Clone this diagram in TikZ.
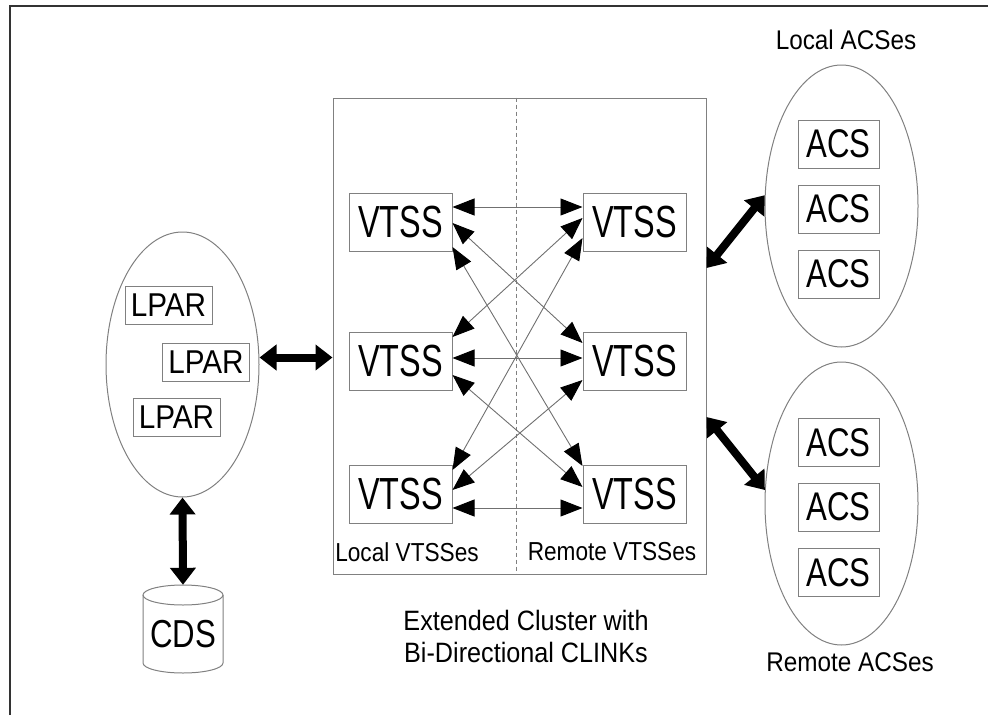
\documentclass[tikz,border=0pt]{standalone}
\usepackage{graphicx}
\usepackage{fontspec}
\setmainfont{Liberation Sans}
\usetikzlibrary{shapes.geometric,arrows.meta,calc}
\newcommand\mytxt[3]{\fontsize{#1}{#1}\selectfont\scalebox{#2}[1]{#3}}
\definecolor{edgegray}{HTML}{808080}
\definecolor{linegray}{HTML}{707070}
\definecolor{framegray}{HTML}{333333}
\tikzset{
  vbox/.style={draw=edgegray, line width=1pt, minimum width=103pt, minimum height=58pt, inner sep=0pt},
  lbox/.style={draw=edgegray, line width=1pt, minimum width=87pt, minimum height=38pt, inner sep=0pt},
  abox/.style={draw=edgegray, line width=1pt, minimum width=81pt, minimum height=48pt, inner sep=0pt},
  oval/.style={draw=edgegray, line width=1pt, ellipse, inner sep=0pt},
  thin2/.style={draw=linegray, line width=0.9pt, {Triangle[length=22pt,width=17pt,black]}-{Triangle[length=22pt,width=17pt,black]}},
  thick2/.style={draw=black, line width=8pt, {Triangle[length=17pt,width=25pt]}-{Triangle[length=17pt,width=25pt]}},
  plain/.style={inner sep=0pt}
}
\begin{document}
\begin{tikzpicture}[x=1pt,y=-1pt]
\useasboundingbox (0,0) rectangle (988,715);
% frame
\draw[framegray, line width=2pt] (10,715) -- (10,6) -- (988,6);

% central cluster box
\node[draw=edgegray, line width=1pt, minimum width=373pt, minimum height=476pt, inner sep=0pt] (cl) at (519.5,336) {};
\draw[edgegray, line width=0.9pt, dash pattern=on 4pt off 3pt] (cl.north -| 516,0) -- (cl.south -| 516,0);

% VTSS boxes
\node[vbox] (tl) at (400.5,222) {\mytxt{45}{0.72}{VTSS}};
\node[vbox] (ml) at (400.5,361.5) {\mytxt{45}{0.72}{VTSS}};
\node[vbox] (bl) at (400.5,494.5) {\mytxt{45}{0.72}{VTSS}};
\node[vbox] (tr) at (634.5,222) {\mytxt{45}{0.72}{VTSS}};
\node[vbox] (mr) at (634.5,361.5) {\mytxt{45}{0.72}{VTSS}};
\node[vbox] (br) at (634.5,494.5) {\mytxt{45}{0.72}{VTSS}};

\node[plain] (lv) at (407,552) {\mytxt{26}{0.87}{Local VTSSes}};
\node[plain] (rv) at (612,552) {\mytxt{26}{0.87}{Remote VTSSes}};

% CLINK arrows
\draw[thin2] ([yshift=15pt]tl.east) -- ([yshift=15pt]tr.west);
\draw[thin2] ([yshift=-1pt]tl.east) -- ([yshift=18.5pt]mr.west);
\draw[thin2] ([yshift=-25pt]tl.east) -- ([yshift=28.5pt]br.west);
\draw[thin2] ([yshift=4pt]tr.west) -- ([yshift=24.5pt]ml.east);
\draw[thin2] ([yshift=-16pt]tr.west) -- ([yshift=24.5pt]bl.east);
\draw[thin2] ([yshift=3.5pt]ml.east) -- ([yshift=3.5pt]mr.west);
\draw[thin2] ([yshift=-13.5pt]ml.east) -- ([yshift=7.5pt]br.west);
\draw[thin2] ([yshift=-18.5pt]mr.west) -- ([yshift=4.5pt]bl.east);
\draw[thin2] ([yshift=-13.5pt]bl.east) -- ([yshift=-13.5pt]br.west);

% LPAR ellipse
\node[oval, minimum width=153pt, minimum height=265pt] (lp) at (182.5,364.5) {};
\node[lbox] (lp1) at (168.5,305.5) {\mytxt{33}{0.9}{LPAR}};
\node[lbox] (lp2) at (206,362.5) {\mytxt{33}{0.9}{LPAR}};
\node[lbox] (lp3) at (176.5,417.5) {\mytxt{33}{0.9}{LPAR}};

% CDS cylinder
\node[plain, minimum width=80pt, minimum height=88pt] (cds) at (183,629) {};
\draw[edgegray, line width=1pt] (183,595) ellipse [x radius=40, y radius=10];
\draw[edgegray, line width=1pt] (143,595) -- (143,663) arc[start angle=180, end angle=360, x radius=40, y radius=-10] -- (223,595);
\node[plain] at (183,634) {\mytxt{39}{0.8}{CDS}};

% ACS ellipses
\node[oval, minimum width=153pt, minimum height=282pt] (la) at (841.5,206) {};
\node[abox] (a1) at (838.5,144) {\mytxt{40}{0.78}{ACS}};
\node[abox] (a2) at (838.5,209) {\mytxt{40}{0.78}{ACS}};
\node[abox] (a3) at (838.5,274) {\mytxt{40}{0.78}{ACS}};
\node[plain] (lal) at (846,40) {\mytxt{27}{0.9}{Local ACSes}};

\node[oval, minimum width=153pt, minimum height=283pt] (ra) at (841.5,503.5) {};
\node[abox] (a4) at (838.5,442.5) {\mytxt{40}{0.78}{ACS}};
\node[abox] (a5) at (838.5,507) {\mytxt{40}{0.78}{ACS}};
\node[abox] (a6) at (838.5,572.5) {\mytxt{40}{0.78}{ACS}};
\node[plain] (ral) at (850,662) {\mytxt{27}{0.9}{Remote ACSes}};

% cluster caption
\node[plain] (cap1) at (526,620) {\mytxt{28}{0.9}{Extended Cluster with}};
\node[plain] (cap2) at (526,652) {\mytxt{28}{0.9}{Bi-Directional CLINKs}};

% thick arrows
\draw[thick2] ([yshift=7pt]lp.east) -- ([yshift=7pt]lp.east -| cl.west);
\draw[thick2] (lp.south) -- (cds.north);
\draw[thick2] ([yshift=68pt]cl.east) -- (la.172);
\draw[thick2] ([yshift=-81pt]cl.east) -- (ra.170);
\end{tikzpicture}
\end{document}
